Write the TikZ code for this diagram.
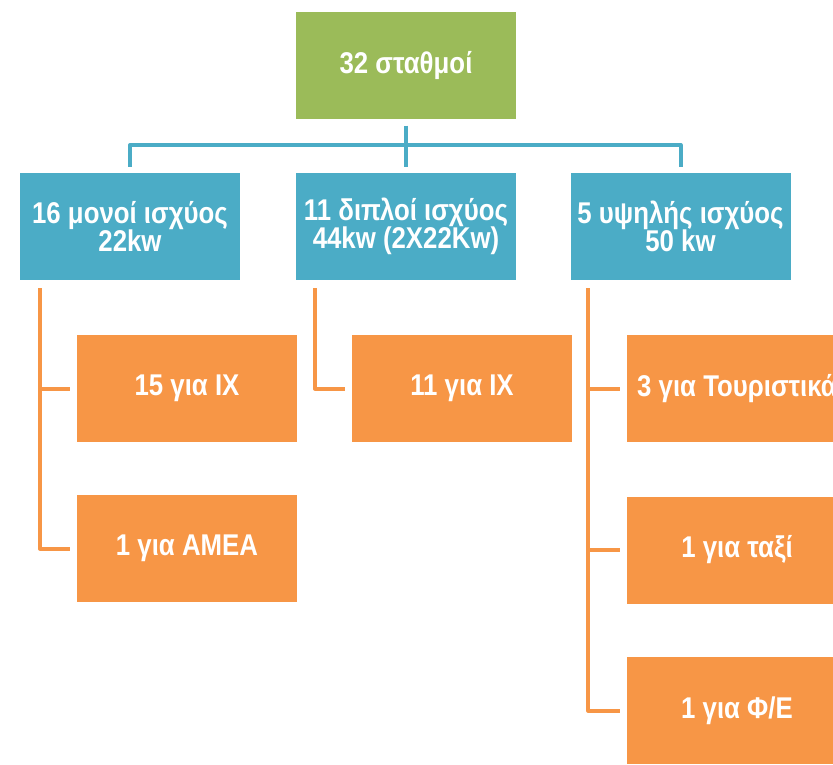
\documentclass[tikz,border=0pt]{standalone}
\usepackage{fontspec}
\newfontfamily\boxfont{Liberation Sans}[FakeStretch=0.86]
\definecolor{cgreen}{HTML}{9BBB59}
\definecolor{cblue}{HTML}{4BACC6}
\definecolor{corange}{HTML}{F79646}
\begin{document}
\begin{tikzpicture}[x=1pt,y=-1pt,
  box/.style={minimum width=220pt,minimum height=107pt,inner sep=0pt,
    text=white,align=center,font=\boxfont\bfseries\fontsize{30}{28}\selectfont},
  gbox/.style={box,fill=cgreen},
  bbox/.style={box,fill=cblue},
  obox/.style={box,fill=corange},
  bl/.style={draw=cblue,line width=4pt,line join=round},
  ol/.style={draw=corange,line width=4pt,line join=round}]
\clip (0,0) rectangle (833,764);
\fill[white] (0,0) rectangle (833,764);
% nodes
\node[gbox] (top) at (406,65) {32 σταθμοί};
\node[bbox] (b1) at (130,226.5) {16 μονοί ισχύος\\22kw};
\node[bbox] (b2) at (406,226.5) {11 διπλοί ισχύος\\44kw (2X22Kw)};
\node[bbox] (b3) at (680.5,226.5) {5 υψηλής ισχύος\\50 kw};
\node[obox] (c11) at (187,388.5) {15 για ΙΧ};
\node[obox] (c12) at (187,548.5) {1 για ΑΜΕΑ};
\node[obox] (c21) at (462,388.5) {11 για ΙΧ};
\node[obox] (c31) at (737,388.5) {3 για Τουριστικά};
\node[obox] (c32) at (737,550) {1 για ταξί};
\node[obox] (c33) at (737,710.5) {1 για Φ/Ε};
% top connectors
\coordinate (bus) at (406,145);
\draw[bl] ([yshift=-7pt]top.south) -- ([yshift=6pt]b2.north);
\draw[bl] ([yshift=6pt]b1.north) |- (bus) -| ([yshift=6pt]b3.north);
% spines
\coordinate (s1) at ([xshift=20pt,yshift=-8pt]b1.south west);
\coordinate (s2) at ([xshift=19pt,yshift=-8pt]b2.south west);
\coordinate (s3) at ([xshift=18pt,yshift=-8pt]b3.south west);
\draw[ol] (s1) |- ([xshift=-7pt]c12.west);
\draw[ol] (s1 |- c11.west) -- ([xshift=-7pt]c11.west);
\draw[ol] (s2) |- ([xshift=-7pt]c21.west);
\draw[ol] (s3) |- ([xshift=-7pt]c33.west);
\draw[ol] (s3 |- c31.west) -- ([xshift=-7pt]c31.west);
\draw[ol] (s3 |- c32.west) -- ([xshift=-7pt]c32.west);
\end{tikzpicture}
\end{document}
